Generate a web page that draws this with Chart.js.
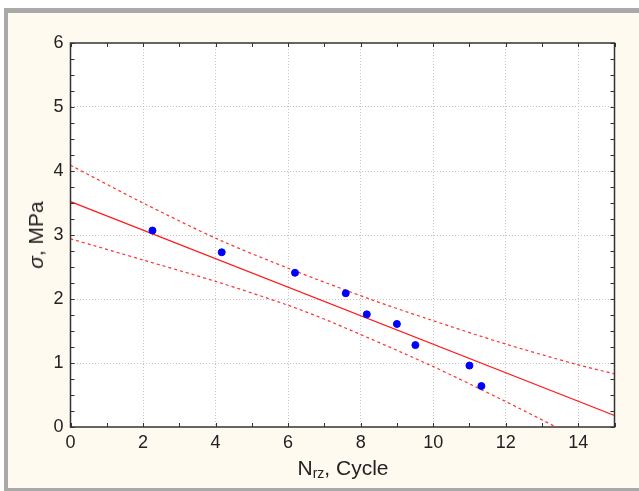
<!DOCTYPE html>
<html>
<head>
<meta charset="utf-8">
<script src="https://cdn.jsdelivr.net/npm/chart.js@4"></script>
<style>
  html, body { margin: 0; padding: 0; background: #fff; }
  #page { position: relative; width: 639px; height: 491px; overflow: hidden; background: #fff; }
  #panel { position: absolute; left: 4px; top: 8px; width: 635px; height: 483px; background: #a9a9a9; }
  #inner { position: absolute; left: 8px; top: 13px; width: 631px; height: 475px; background: #fffaf0; }
  #chart-box { position: absolute; left: 8px; top: 13px; width: 631px; height: 475px; }
  .ttl { position: absolute; font-family: "Liberation Sans", Arial, sans-serif; font-size: 21px; color: #222; white-space: nowrap; }
  #ytitle { left: 36px; top: 235px; transform: translate(-50%, -50%) rotate(-90deg); }
  #xtitle { left: 343px; top: 468px; transform: translate(-50%, -50%); }
  #xtitle sub { font-size: 14px; vertical-align: -3px; }
</style>
</head>
<body>
<div id="page">
  <div id="panel"></div>
  <div id="inner"></div>
  <div id="chart-box"><canvas id="c" width="631" height="475"></canvas></div>
  <div class="ttl" id="ytitle"><i>σ</i>, MPa</div>
  <div class="ttl" id="xtitle">N<sub>rz</sub>, Cycle</div>
</div>
<script>
// measured points
const cycles = [2.26, 4.17, 6.19, 7.59, 8.17, 9.0, 9.51, 11.0, 11.33];
const stress = [3.07, 2.73, 2.41, 2.09, 1.76, 1.61, 1.28, 0.96, 0.64];

// regression line
const fitX = [0, 15];
const fitY = [3.52, 0.18];

// confidence band
const upperX = [0, 2, 4.12, 6.14, 8.25, 9.9, 11.92, 13.94, 15];
const upperY = [4.09, 3.50, 2.92, 2.45, 2.00, 1.68, 1.31, 0.98, 0.83];
const lowerX = [0, 2, 4.03, 5.96, 7.15, 9.9, 11.92, 13.39];
const lowerY = [2.94, 2.61, 2.27, 1.91, 1.65, 0.97, 0.42, 0];

const xTicks = [0, 2, 4, 6, 8, 10, 12, 14];
const yTicks = [0, 1, 2, 3, 4, 5, 6];

const pts = (xs, ys) => xs.map((x, i) => ({ x, y: ys[i] }));

const frame = {
  id: 'frame',
  beforeDraw(chart) {
    const { ctx, chartArea: a } = chart;
    ctx.save();
    ctx.fillStyle = '#fff';
    ctx.fillRect(a.left, a.top, a.right - a.left, a.bottom - a.top);
    ctx.restore();
  },
  afterDraw(chart) {
    const { ctx, chartArea: a, scales } = chart;
    ctx.save();
    ctx.strokeStyle = '#333';
    ctx.lineWidth = 1;
    ctx.beginPath();
    for (let v = 0; v <= 15; v += 1) {
      const px = Math.round(scales.x.getPixelForValue(v)) + 0.5;
      ctx.moveTo(px, a.bottom); ctx.lineTo(px, a.bottom - 4);
      ctx.moveTo(px, a.top); ctx.lineTo(px, a.top + 4);
    }
    for (let v = 0; v <= 6; v += 0.25) {
      const py = Math.round(scales.y.getPixelForValue(v)) + 0.5;
      ctx.moveTo(a.left, py); ctx.lineTo(a.left + 4, py);
      ctx.moveTo(a.right, py); ctx.lineTo(a.right - 4, py);
    }
    ctx.stroke();
    ctx.lineWidth = 1.5;
    ctx.strokeRect(a.left, a.top, a.right - a.left, a.bottom - a.top);
    ctx.restore();
  }
};

const gridColor = (ticks, lo, hi) => ctx => {
  const v = ctx.tick && ctx.tick.value;
  return ticks.includes(v) && v > lo && v < hi ? '#c4c4c4' : 'rgba(0,0,0,0)';
};

new Chart(document.getElementById('c'), {
  type: 'scatter',
  data: {
    datasets: [
      { data: pts(cycles, stress), backgroundColor: '#0000ff', borderColor: '#0000ff',
        pointRadius: 3.5, pointHoverRadius: 3.5, showLine: false },
      { data: pts(fitX, fitY), showLine: true, borderColor: '#ff1a1a', borderWidth: 1.3, pointRadius: 0 },
      { data: pts(upperX, upperY), showLine: true, borderColor: '#ff3030', borderWidth: 1.2,
        borderDash: [3, 3], pointRadius: 0, tension: 0.3 },
      { data: pts(lowerX, lowerY), showLine: true, borderColor: '#ff3030', borderWidth: 1.2,
        borderDash: [3, 3], pointRadius: 0, tension: 0.3 },
    ]
  },
  options: {
    responsive: false,
    animation: false,
    layout: { padding: { left: 0, top: 30, right: 24.5, bottom: 0 } },
    plugins: { legend: { display: false }, tooltip: { enabled: false } },
    scales: {
      x: {
        type: 'linear', min: 0, max: 15,
        afterFit: s => { s.height = 61; },
        ticks: {
          stepSize: 1, autoSkip: false, maxRotation: 0, padding: 5,
          callback: v => xTicks.includes(v) ? v : '',
          font: { family: '"Liberation Sans", Arial, sans-serif', size: 18 }, color: '#222'
        },
        grid: { color: gridColor(xTicks, 0, 15), drawTicks: false, lineWidth: 1 },
        border: { display: false, dash: [1, 2] }
      },
      y: {
        min: 0, max: 6,
        afterFit: s => { s.width = 62.5; },
        ticks: {
          stepSize: 1, padding: 7,
          callback: v => yTicks.includes(v) ? v : '',
          font: { family: '"Liberation Sans", Arial, sans-serif', size: 18 }, color: '#222'
        },
        grid: { color: gridColor(yTicks, 0, 6), drawTicks: false, lineWidth: 1 },
        border: { display: false, dash: [1, 2] }
      }
    }
  },
  plugins: [frame]
});
</script>
</body>
</html>
